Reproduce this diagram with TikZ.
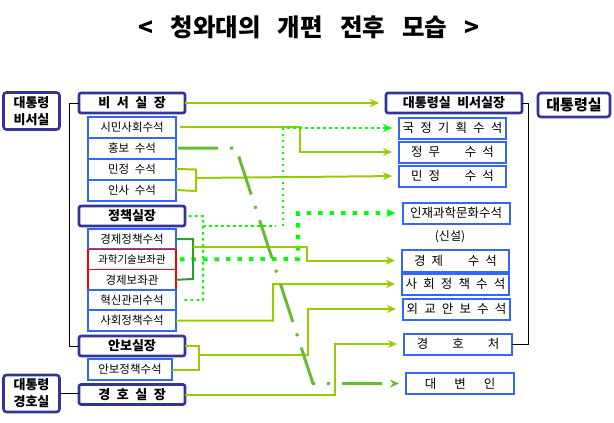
\documentclass[tikz,border=0pt]{standalone}
\usepackage{fontspec}
\setmainfont{Noto Sans CJK KR}[WordSpace=2.2]
\usetikzlibrary{arrows.meta, positioning, calc}
\definecolor{cnavy}{HTML}{333399}
\definecolor{cblue}{HTML}{3366FF}
\definecolor{cred}{HTML}{FF0000}
\definecolor{clime}{HTML}{99CC00}
\definecolor{cneon}{HTML}{00FF00}
\definecolor{cdkgreen}{HTML}{339933}
\definecolor{cmidgreen}{HTML}{66BB33}
\tikzset{
  every picture/.style={line width=2pt},
  box/.style={draw=#1, line width=2pt, outer sep=0pt, inner sep=0pt, align=center,
    minimum width=88pt, minimum height=21pt, font=\fontsize{11.5}{13}\selectfont},
  box/.default=cblue,
  head/.style={box=cnavy, line width=2.6pt, rounded corners=2pt, minimum width=106pt,
    minimum height=20pt, font=\bfseries\fontsize{13}{15}\selectfont},
  org/.style={box=cnavy, line width=2.6pt, rounded corners=3pt, minimum width=56pt,
    minimum height=37pt, font=\bfseries\fontsize{13}{17}\selectfont},
  post/.style={box=cblue, minimum width=107pt, minimum height=21pt, font=\fontsize{12.5}{14}\selectfont},
  link/.style={-{Stealth[length=9pt, width=8pt]}, draw=clime, line width=2pt, shorten >=7pt},
  bracket/.style={draw=clime, line width=2pt},
  dotlink/.style={link, draw=cneon, dash pattern=on 2.5pt off 3.5pt},
  bigdot/.style={link, draw=cneon, line width=4pt, dash pattern=on 4.5pt off 7pt},
  dashdot/.style={link, draw=cmidgreen, line width=3pt, dash pattern=on 40pt off 12pt on 3pt off 12pt},
  tree/.style={draw=black, line width=1pt},
  title/.style={font=\bfseries\fontsize{24.5}{27}\selectfont},
  note/.style={font=\fontsize{12}{14}\selectfont},
}

\begin{document}
\begin{tikzpicture}[x=1pt, y=-1pt]
  \useasboundingbox (0,0) rectangle (614,423);
  \node[title] (heading) at (309,27) {<\hspace{17pt}청와대의\hspace{17pt}개편\hspace{17pt}전후\hspace{17pt}모습\hspace{17pt}>};

  \node[org] (bsroom) at (31.5,111) {대통령\\비서실};
  \node[org] (gsroom) at (31.5,393.5) {대통령\\경호실};
  \node[head] (chief) at (132,103) {비 서 실 장};
  \node[box] (civil) at (132,127) {시민사회수석};
  \node[box, below=0pt of civil] (pr) {홍보 수석};
  \node[box, below=0pt of pr] (minj) {민정 수석};
  \node[box, below=0pt of minj] (insa) {인사 수석};
  \node[head] (policy) at (132,216) {정책실장};
  \node[box, minimum height=20.4pt] (econ) at (132,239) {경제정책수석};
  \node[box=cred, line width=1.2pt, minimum height=20.4pt, below=0pt of econ, font=\fontsize{10.5}{12}\selectfont] (sci) {과학기술보좌관};
  \node[box=cred, line width=1.2pt, minimum height=20.4pt, below=0pt of sci] (econadv) {경제보좌관};
  \node[box, minimum height=20.4pt, below=0pt of econadv] (innov) {혁신관리수석};
  \node[box, minimum height=20.4pt, below=0pt of innov] (social) {사회정책수석};
  \node[head] (sec) at (132,346) {안보실장};
  \node[box, minimum width=84pt] (secpol) at (130,369.5) {안보정책수석};
  \node[head] (guard) at (132,394.5) {경 호 실 장};

  \node[head, minimum width=136pt] (nchief) at (454,103) {대통령실 비서실장};
  \node[org, minimum width=72pt, minimum height=24pt, font=\bfseries\fontsize{15}{17}\selectfont] (office) at (574,105) {대통령실};
  \node[post] (plan) at (452.5,128) {국 정 기 획 수 석};
  \node[post, below=3pt of plan] (pol) {정 무~~~~수 석};
  \node[post, below=3pt of pol] (rminj) {민 정~~~~수 석};
  \node[post] (talent) at (456,213) {인재과학문화수석};
  \node[note, below=3pt of talent, xshift=-6pt] (newnote) {(신설)};
  \node[post, minimum height=22pt] (recon) at (455.5,260.5) {경 제~~~~수 석};
  \node[post, below=2pt of recon] (rsocial) {사 회 정 책 수 석};
  \node[post, below=4pt of rsocial, xshift=1pt] (diplo) {외 교 안 보 수 석};
  \node[post, minimum width=108pt] (service) at (458,344) {경\hspace{24pt}호\hspace{24pt}처};
  \node[post, minimum width=108pt] (spokes) at (460,383.5) {대\hspace{18pt}변\hspace{18pt}인};

  \draw[tree] (chief.west) -- ++(-10,0) |- (sec.west);
  \draw[tree] (gsroom.east) -- (gsroom.east -| guard.west);
  \draw[tree] (nchief.east) -- ++(6,0) |- (service.east);

  \draw[link] (chief.east) -- (nchief.west);
  \draw[link, shorten <=4pt] (civil.east) -- (300,127) |- (pol.west);
  \draw[bracket] (minj.east) -- (196,169.5) -- (196,191) -- (insa.east);
  \draw[link] (196,178) -- (rminj.west);
  \draw[dotlink] (283,226) -- (283,128) -- (plan.west);
  \draw[dotlink, -, shorten <=4pt] (policy.east) -- (203,216) -- (203,300) -- (innov.east);
  \draw[dotlink, -] (203,226) -- (283,226);
  \draw[bigdot, shorten <=4pt] (sci.east) -- (298,259) |- (talent.west);
  \draw[draw=cdkgreen] (econ.east) -- (193,239) -- (193,279) -- (econadv.east);
  \draw[link] (193,247) -- (307,247) |- (recon.west);
  \draw[link] (social.east) -- (273,320.5) |- (rsocial.west);
  \draw[bracket] (sec.east) -- (199,346) -- (199,369.5) -- (secpol.east);
  \draw[link] (199,355) -- (308,355) |- (diplo.west);
  \draw[link] (guard.east) -- (335,394.5) |- (service.west);
  \draw[dashdot, shorten <=2pt] (pr.east) -- (236,148) -- (313,383.5) -- (spokes.west);
\end{tikzpicture}
\end{document}
